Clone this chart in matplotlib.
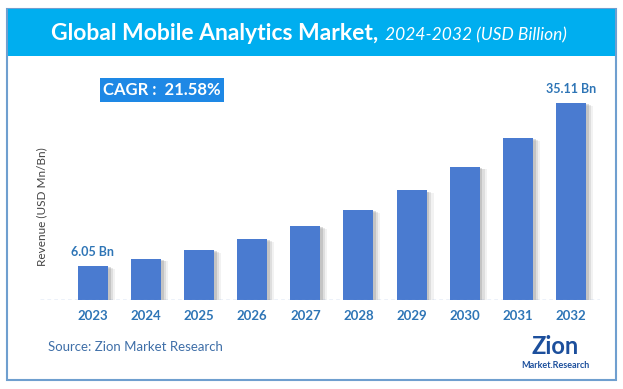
import matplotlib.pyplot as plt
import matplotlib.patheffects as pe
from matplotlib.patches import Rectangle

# data
years = ['2023', '2024', '2025', '2026', '2027', '2028', '2029', '2030', '2031', '2032']
revenue = [6.05, 7.36, 8.95, 10.88, 13.23, 16.08, 19.55, 23.77, 28.90, 35.11]
bar_labels = {0: '6.05 Bn', 9: '35.11 Bn'}
cagr_text = 'CAGR :  21.58%'

W, H = 623, 389
BLUE_TXT = '#2e75b6'

plt.rcParams['font.family'] = ['Lato', 'DejaVu Sans']

fig = plt.figure(figsize=(W / 100, H / 100), dpi=100, facecolor='white')


def fx(px):
    return px / W


def fy(py):
    return 1 - py / H


# outer frame and title banner
fig.patches.append(Rectangle((fx(7), fy(380)), fx(609), (380 - 9) / H, transform=fig.transFigure,
                             facecolor='none', edgecolor='#6f9fcf', lw=1.5, zorder=0))
fig.patches.append(Rectangle((fx(8), fy(56)), fx(607), 47 / H, transform=fig.transFigure,
                             facecolor='#00aeef', edgecolor='none', zorder=1))
fig.text(fx(378), fy(34), 'Global Mobile Analytics Market,', color='white', fontsize=16.5,
         fontweight='bold', ha='right', va='center')
fig.text(fx(385), fy(35), '2024-2032 (USD Billion)', color='white', fontsize=12.5,
         fontstyle='italic', ha='left', va='center')

# main bar axes
ax = fig.add_axes([fx(40), fy(300), fx(560), 224.4 / H])
x = list(range(len(years)))
bars = ax.bar(x, revenue, width=0.565, color='#4a7bd0', zorder=3)
for b in bars:
    b.set_path_effects([pe.SimplePatchShadow(offset=(5, -2), shadow_rgbFace='#999999', alpha=0.12),
                        pe.SimplePatchShadow(offset=(3.5, -1.5), shadow_rgbFace='#888888', alpha=0.18),
                        pe.SimplePatchShadow(offset=(2, -1), shadow_rgbFace='#777777', alpha=0.25),
                        pe.Normal()])
ax.set_xlim(-0.998, 9.548)
ax.set_ylim(0, 40)
for i, lab in bar_labels.items():
    ax.annotate(lab, (x[i], revenue[i]), xytext=(0, 6), textcoords='offset points',
                ha='center', va='bottom', color=BLUE_TXT, fontsize=9, fontweight='bold')
ax.axhline(0, color='#6f93d0', lw=0.9, ls=(0, (3, 2.5)), zorder=4)
ax.set_xticks(x)
ax.set_xticklabels(years, color=BLUE_TXT, fontsize=9.5, fontweight='bold')
ax.tick_params(axis='x', length=0, pad=7)
ax.set_yticks([])
for s in ax.spines.values():
    s.set_visible(False)
ax.patch.set_alpha(0)

fig.text(fx(42), fy(207), 'Revenue (USD Mn/Bn)', rotation=90, ha='center', va='center',
         fontsize=8.5, color='#444444')

# CAGR badge
fig.text(fx(162), fy(90), cagr_text, ha='center', va='center', color='white', fontsize=12,
         fontweight='bold',
         bbox=dict(boxstyle='square,pad=0.22', facecolor='#1e88e5', edgecolor='none'))

# source
fig.text(fx(48), fy(347), 'Source: Zion Market Research', ha='left', va='center',
         fontsize=9.5, color='#3f6fa8')

# logo, approximated with text
fig.text(fx(555), fy(347), 'Zion', ha='center', va='center', fontsize=17, fontweight='bold',
         color='#1c4f9c')
fig.text(fx(555), fy(365), 'Market.Research', ha='center', va='center', fontsize=6.5,
         fontweight='bold', color='#1c4f9c')

fig.savefig('out.png', dpi=100, facecolor='white')
